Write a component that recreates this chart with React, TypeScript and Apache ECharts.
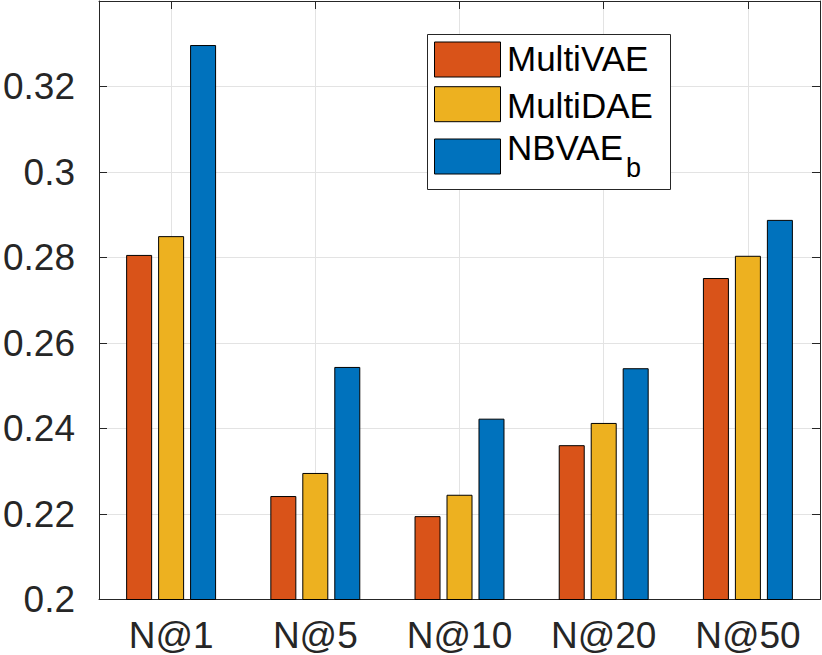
import React, { useEffect, useRef } from "react";
import * as echarts from "echarts";

const categories = ["N@1", "N@5", "N@10", "N@20", "N@50"];
const seriesNames = ["MultiVAE", "MultiDAE", "NBVAE"];
const multiVAE = [0.2806, 0.2242, 0.2195, 0.2361, 0.2752];
const multiDAE = [0.285, 0.2296, 0.2245, 0.2413, 0.2804];
const nbVAEb = [0.3297, 0.2544, 0.2423, 0.2541, 0.2888];
const seriesValues = [multiVAE, multiDAE, nbVAEb];
const colors = ["#D95319", "#EDB120", "#0072BD"];
const yMin = 0.2;
const yMax = 0.34;
const yStep = 0.02;

const FONT = "'Liberation Sans', Arial, Helvetica, sans-serif";
const AX = "#262626";
const GRID = "#e3e3e3";

export default function App() {
  const ref = useRef<HTMLDivElement>(null);
  useEffect(() => {
    if (!ref.current) return;
    const chart = echarts.init(ref.current, undefined, { renderer: "svg" });
    const topData = Array.from({ length: categories.length * 2 + 1 }, (_, i) => String(i));
    const legendRows = [
      { sy: 42, ty: 58.5 },
      { sy: 86.7, ty: 105 },
      { sy: 139, ty: 147.5 },
    ];
    const legendEls: any[] = [
      {
        type: "rect",
        shape: { x: 427.5, y: 34.5, width: 243, height: 155 },
        style: { fill: "#fff", stroke: AX, lineWidth: 1 },
        z: 100,
      },
    ];
    seriesNames.forEach((n, i) => {
      legendEls.push({
        type: "rect",
        shape: { x: 434.5, y: legendRows[i].sy, width: 66, height: 35 },
        style: { fill: colors[i], stroke: "#000", lineWidth: 1 },
        z: 101,
      });
      legendEls.push({
        type: "text",
        x: 507,
        y: legendRows[i].ty,
        style: {
          text: n,
          fontSize: 35,
          fontFamily: FONT,
          fill: "#000",
          verticalAlign: "middle",
          align: "left",
        },
        z: 101,
      });
    });
    legendEls.push({
      type: "text",
      x: 626,
      y: 167.5,
      style: {
        text: "b",
        fontSize: 27,
        fontFamily: FONT,
        fill: "#000",
        verticalAlign: "middle",
        align: "left",
      },
      z: 101,
    });

    chart.setOption({
      animation: false,
      backgroundColor: "#fff",
      textStyle: { fontFamily: FONT },
      grid: { left: 98, right: 2, top: 1, bottom: 55.5, containLabel: false },
      xAxis: [
        {
          type: "category",
          data: categories,
          position: "bottom",
          axisLine: { show: true, lineStyle: { color: AX, width: 1 } },
          axisTick: { show: false },
          axisLabel: { color: AX, fontSize: 37, fontFamily: FONT, margin: 17 },
          splitLine: { show: false },
        },
        {
          type: "category",
          data: topData,
          boundaryGap: false,
          position: "top",
          axisLine: { show: true, lineStyle: { color: AX, width: 1 } },
          axisTick: {
            show: true,
            inside: true,
            length: 8,
            interval: (i: number) => i % 2 === 1,
            lineStyle: { color: AX },
          },
          axisLabel: { show: false },
          splitLine: {
            show: true,
            interval: (i: number) => i % 2 === 1,
            lineStyle: { color: GRID, width: 1 },
          },
        },
      ],
      yAxis: [
        {
          type: "value",
          min: yMin,
          max: yMax,
          interval: yStep,
          position: "left",
          axisLine: { show: true, lineStyle: { color: AX, width: 1 } },
          axisTick: { show: true, inside: true, length: 8, lineStyle: { color: AX } },
          axisLabel: {
            color: AX,
            fontSize: 37,
            fontFamily: FONT,
            margin: 24,
            showMaxLabel: false,
            formatter: (v: number) => String(parseFloat(v.toFixed(2))),
          },
          splitLine: { show: true, lineStyle: { color: GRID, width: 1 } },
        },
        {
          type: "value",
          min: yMin,
          max: yMax,
          interval: yStep,
          position: "right",
          axisLine: { show: true, lineStyle: { color: AX, width: 1 } },
          axisTick: { show: true, inside: true, length: 8, lineStyle: { color: AX } },
          axisLabel: { show: false },
          splitLine: { show: false },
        },
      ],
      series: seriesNames.map((n, i) => ({
        name: i === 2 ? "NBVAE_b" : n,
        type: "bar",
        xAxisIndex: 0,
        yAxisIndex: 0,
        data: seriesValues[i],
        barWidth: 26,
        barGap: "23%",
        itemStyle: { color: colors[i], borderColor: "#000", borderWidth: 1 },
        clip: true,
      })),
      graphic: legendEls,
    });
    return () => chart.dispose();
  }, []);
  return (
    <div
      ref={ref}
      style={{ position: "absolute", left: 0, top: 0, width: 822, height: 655 }}
    />
  );
}
